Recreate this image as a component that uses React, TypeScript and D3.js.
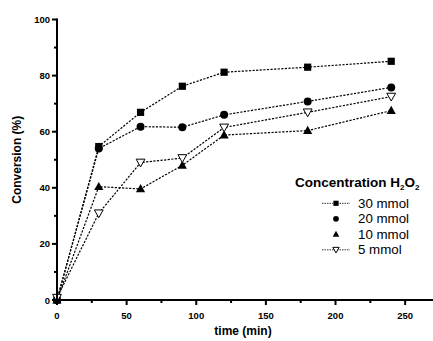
import React from "react";
import * as d3 from "d3";

const times = [0, 30, 60, 90, 120, 180, 240];
const conv30 = [0, 54.7, 66.9, 76.2, 81.2, 83.0, 85.1];
const conv20 = [0, 54.0, 61.8, 61.6, 66.0, 70.8, 75.8];
const conv10 = [0, 40.4, 39.6, 48.0, 58.8, 60.4, 67.5];
const conv5 = [0.8, 30.9, 49.0, 50.6, 61.5, 66.9, 72.5];
const seriesLabels = ["30 mmol", "20 mmol", "10 mmol", "5 mmol"];
const seriesMarkers = ["square", "circle", "triangle", "downTriangle"];
const legendLines = [true, false, false, true];
const xTicks = [0, 50, 100, 150, 200, 250];
const xMinor = [25, 75, 125, 175, 225];
const yTicks = [0, 20, 40, 60, 80, 100];
const yMinor = [10, 30, 50, 70, 90];

const W = 433;
const H = 341;
const font = "'Liberation Sans', Arial, sans-serif";

function Marker({ kind, x, y, s = 1 }: { kind: string; x: number; y: number; s?: number }) {
  if (kind === "square") return <rect x={x - 3.6 * s} y={y - 3.6 * s} width={7.2 * s} height={7.2 * s} fill="#000" />;
  if (kind === "circle") return <circle cx={x} cy={y} r={4 * s} fill="#000" />;
  if (kind === "triangle") {
    const p = d3.path();
    p.moveTo(x, y - 4.8 * s);
    p.lineTo(x + 4.6 * s, y + 3.4 * s);
    p.lineTo(x - 4.6 * s, y + 3.4 * s);
    p.closePath();
    return <path d={p.toString()} fill="#000" />;
  }
  const p = d3.path();
  p.moveTo(x - 4.4 * s, y - 3.4 * s);
  p.lineTo(x + 4.4 * s, y - 3.4 * s);
  p.lineTo(x, y + 4.4 * s);
  p.closePath();
  return <path d={p.toString()} fill="#fff" stroke="#000" strokeWidth={1} />;
}

export default function App() {
  const x = d3.scaleLinear().domain([0, 270]).range([57, 433]);
  const y = d3.scaleLinear().domain([0, 100]).range([300, 19.5]);
  const series = [conv30, conv20, conv10, conv5];
  const line = d3
    .line<number>()
    .x((_, i) => x(times[i]))
    .y((d) => y(d));

  const legX = 295;
  const legRowY = (i: number) => 203.3 + i * 15.5;

  return (
    <svg width={W} height={H} style={{ position: "absolute", left: 0, top: 0, background: "#fff" }}>
      <rect x={0} y={0} width={W} height={H} fill="#fff" />
      {series.map((s, si) => (
        <path key={"l" + si} d={line(s) || ""} fill="none" stroke="#000" strokeWidth={1.2} strokeDasharray="2.2,1.4" />
      ))}
      {series.map((s, si) =>
        s.map((v, i) => <Marker key={`m${si}-${i}`} kind={seriesMarkers[si]} x={x(times[i])} y={y(v)} />)
      )}
      <line x1={x(0)} x2={433} y1={y(0)} y2={y(0)} stroke="#000" strokeWidth={2} />
      <line x1={x(0)} x2={x(0)} y1={y(0) + 1} y2={y(100) - 1} stroke="#000" strokeWidth={2} />
      {xTicks.map((t) => (
        <g key={"xt" + t}>
          <line x1={x(t)} x2={x(t)} y1={y(0)} y2={y(0) + 5} stroke="#000" strokeWidth={2} />
          <text x={x(t)} y={319} textAnchor="middle" fontFamily={font} fontWeight="bold" fontSize={9.5}>
            {t}
          </text>
        </g>
      ))}
      {xMinor.map((t) => (
        <line key={"xm" + t} x1={x(t)} x2={x(t)} y1={y(0)} y2={y(0) + 3} stroke="#000" strokeWidth={2} />
      ))}
      {yTicks.map((t) => (
        <g key={"yt" + t}>
          <line x1={x(0) - 5} x2={x(0)} y1={y(t)} y2={y(t)} stroke="#000" strokeWidth={2} />
          <text x={50} y={y(t) + 3.5} textAnchor="end" fontFamily={font} fontWeight="bold" fontSize={9.5}>
            {t}
          </text>
        </g>
      ))}
      {yMinor.map((t) => (
        <line key={"ym" + t} x1={x(0) - 3} x2={x(0)} y1={y(t)} y2={y(t)} stroke="#000" strokeWidth={2} />
      ))}
      <text x={243} y={335} textAnchor="middle" fontFamily={font} fontWeight="bold" fontSize={12}>
        time (min)
      </text>
      <text
        transform={`translate(21,${y(50)}) rotate(-90)`}
        textAnchor="middle"
        fontFamily={font}
        fontWeight="bold"
        fontSize={12}
      >
        Conversion (%)
      </text>
      <text x={legX} y={187} fontFamily={font} fontWeight="bold" fontSize={13.5}>
        Concentration H
        <tspan fontSize={8} dy={3}>2</tspan>
        <tspan dy={-3}>O</tspan>
        <tspan fontSize={8} dy={3}>2</tspan>
      </text>
      {seriesLabels.map((lab, i) => (
        <g key={"lg" + i}>
          {legendLines[i] && (
            <line x1={322} x2={350} y1={legRowY(i)} y2={legRowY(i)} stroke="#000" strokeWidth={0.8} strokeDasharray="1.5,1" />
          )}
          <Marker kind={seriesMarkers[i]} x={336} y={legRowY(i)} s={0.72} />
          <text x={358} y={legRowY(i) + 4.6} fontFamily={font} fontSize={13.3}>
            {lab}
          </text>
        </g>
      ))}
    </svg>
  );
}
